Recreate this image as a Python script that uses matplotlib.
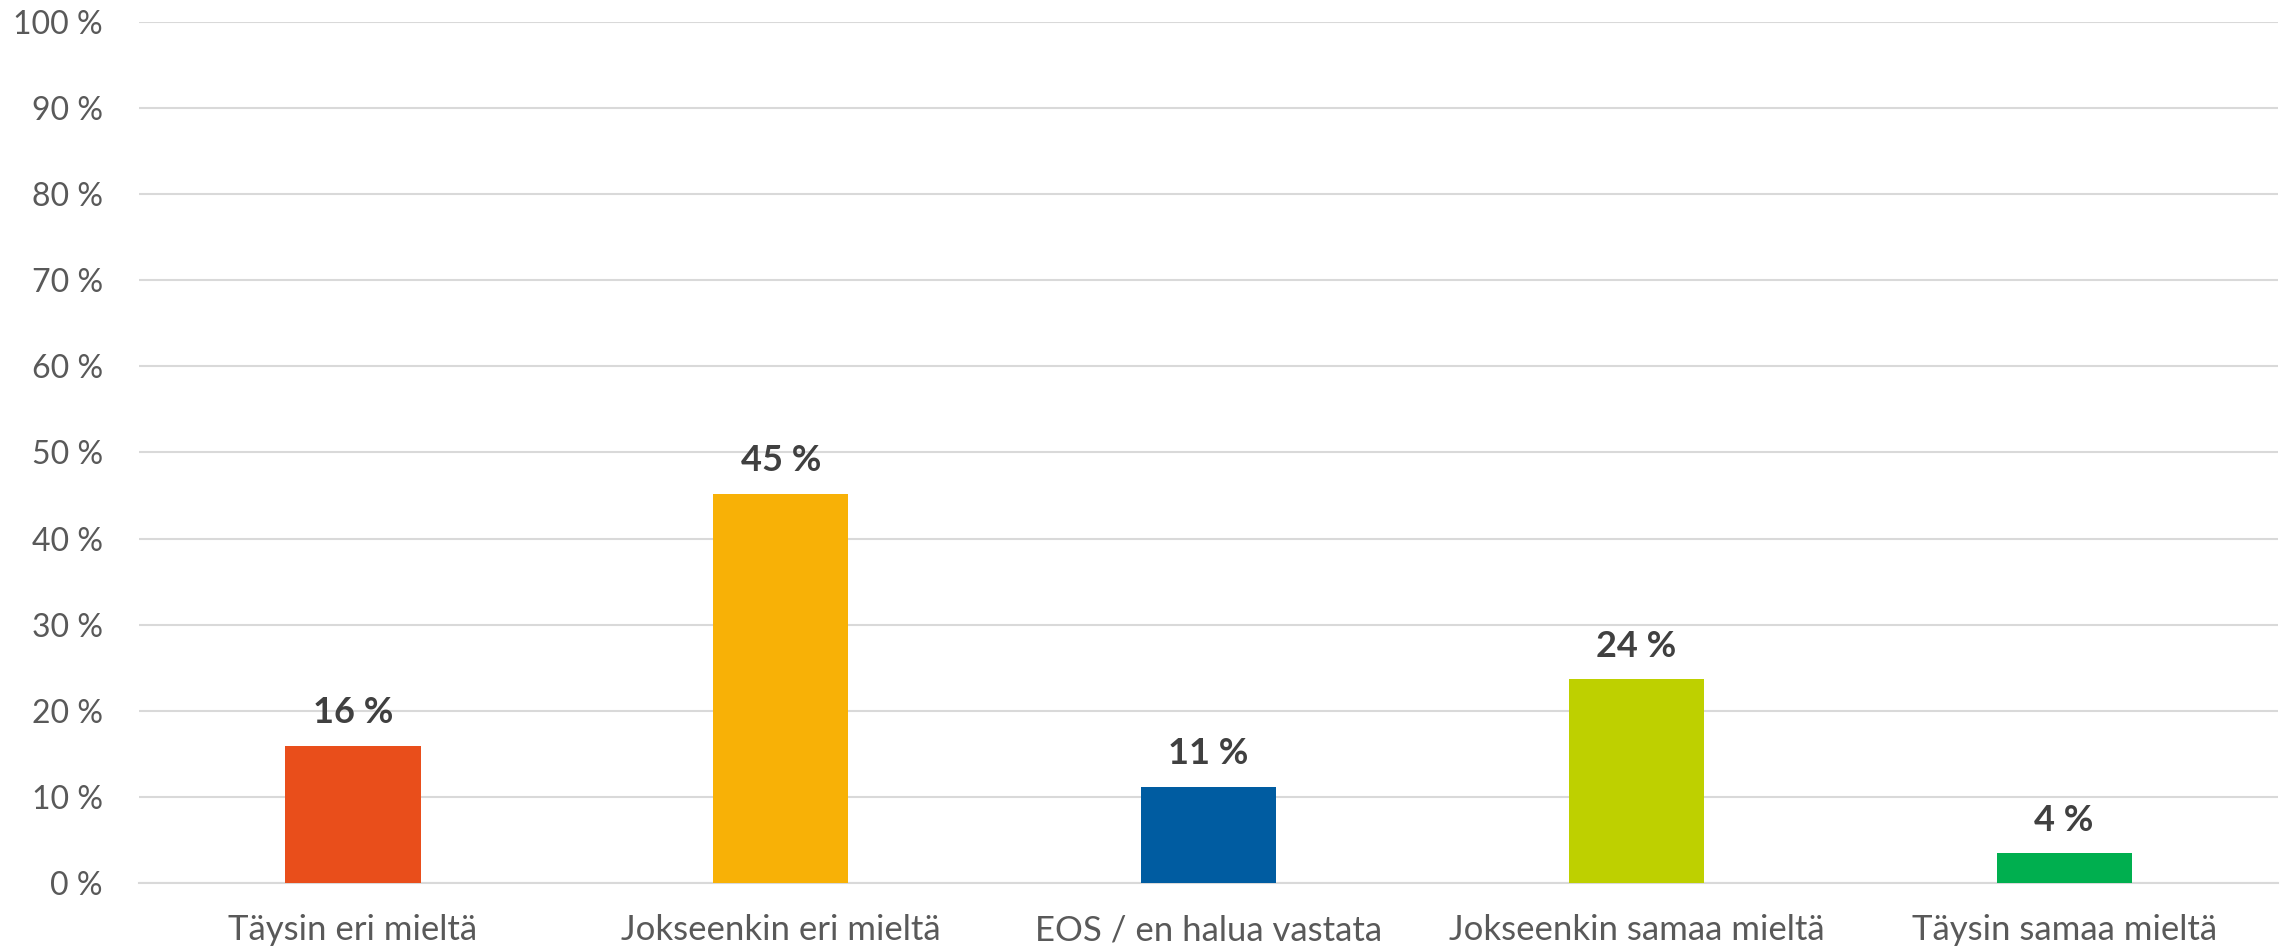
import matplotlib.pyplot as plt
import numpy as np

plt.rcParams['font.family'] = ['Lato', 'DejaVu Sans']

categories = ['Täysin eri mieltä', 'Jokseenkin eri mieltä', 'EOS / en halua vastata',
              'Jokseenkin samaa mieltä', 'Täysin samaa mieltä']
values = [16.0, 45.2, 11.2, 23.7, 3.5]
colors = ['#E94E1B', '#F8B106', '#005CA1', '#BED000', '#00AF4F']
yticks = np.arange(0, 101, 10)

fig = plt.figure(figsize=(22.9, 9.52), dpi=100)
ax = fig.add_axes([0.0607, 0.0720, 0.9341, 0.9054])

x = np.arange(len(categories))
bars = ax.bar(x, values, width=0.316, color=colors, zorder=3)

for xi, v in zip(x, values):
    ax.annotate(f'{v:.0f} %', (xi, v), xytext=(0, 12), textcoords='offset points',
                ha='center', va='bottom', fontsize=26, fontweight='bold', color='#404040')

ax.set_xlim(-0.5, len(categories) - 0.5)
ax.set_ylim(0, 100)
ax.set_yticks(yticks)
ax.set_yticklabels([f'{t} %' for t in yticks])
ax.set_xticks(x)
ax.set_xticklabels(categories)
ax.yaxis.grid(True, color='#D9D9D9', lw=1.5, zorder=0)
ax.tick_params(axis='both', length=0, colors='#595959')
ax.tick_params(axis='y', pad=26, labelsize=23)
ax.tick_params(axis='x', pad=22, labelsize=25)
for s in ['top', 'right', 'left']:
    ax.spines[s].set_visible(False)
ax.spines['bottom'].set_color('#D9D9D9')
ax.spines['bottom'].set_linewidth(1.5)

fig.savefig('out.png', dpi=100)
